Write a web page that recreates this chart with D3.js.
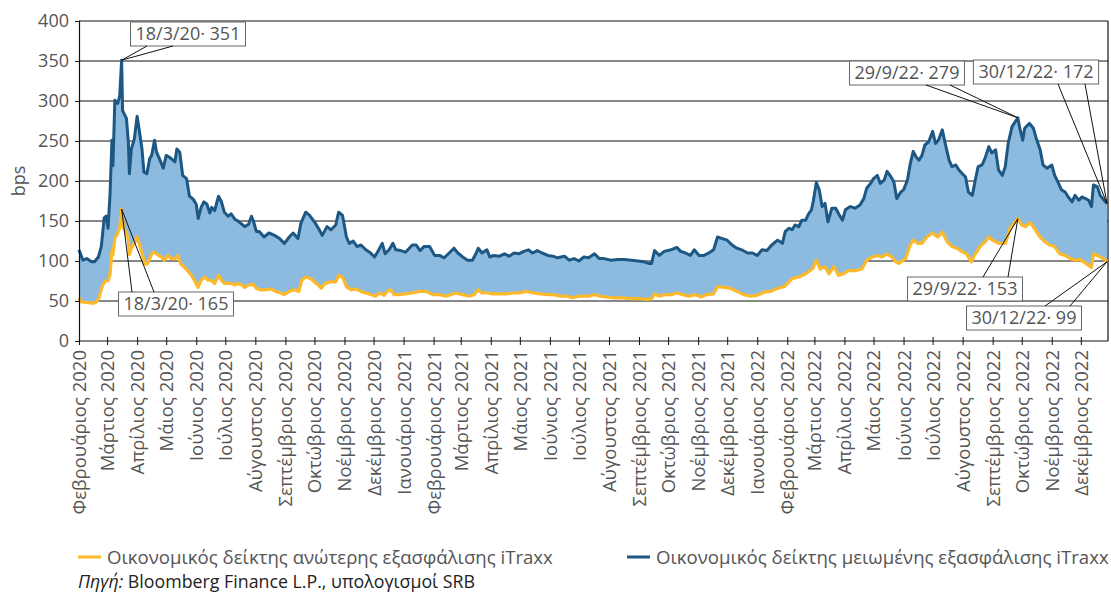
<!DOCTYPE html>
<html>
<head>
<meta charset="utf-8">
<script src="https://d3js.org/d3.v7.min.js"></script>
<style>
  body { margin: 0; background: #fff; }
  text { font-family: "Open Sans", "Noto Sans", sans-serif; }
</style>
</head>
<body>
<div id="chart"></div>
<script>
// iTraxx sub (μειωμένης εξασφάλισης), bps
var subDates = [
  "2020-02-03","2020-02-07","2020-02-11","2020-02-16","2020-02-19","2020-02-23","2020-02-26","2020-02-29",
  "2020-03-02","2020-03-04","2020-03-06","2020-03-08","2020-03-09","2020-03-11","2020-03-14","2020-03-16",
  "2020-03-18","2020-03-19","2020-03-23","2020-03-25","2020-03-26","2020-03-28","2020-03-31","2020-04-03",
  "2020-04-05","2020-04-08","2020-04-10","2020-04-13","2020-04-16","2020-04-18","2020-04-21","2020-04-23",
  "2020-04-26","2020-04-30","2020-05-03","2020-05-06","2020-05-10","2020-05-12","2020-05-14","2020-05-17",
  "2020-05-20","2020-05-24","2020-05-27","2020-05-31","2020-06-03","2020-06-05","2020-06-08","2020-06-11",
  "2020-06-14","2020-06-17","2020-06-19","2020-06-22","2020-06-26","2020-06-29","2020-07-02","2020-07-06",
  "2020-07-09","2020-07-13","2020-07-16","2020-07-20","2020-07-23","2020-07-27","2020-07-30","2020-08-01",
  "2020-08-04","2020-08-07","2020-08-12","2020-08-17","2020-08-23","2020-08-28","2020-09-02","2020-09-07",
  "2020-09-11","2020-09-16","2020-09-19","2020-09-24","2020-09-28","2020-10-03","2020-10-08","2020-10-11",
  "2020-10-16","2020-10-20","2020-10-25","2020-10-28","2020-11-01","2020-11-05","2020-11-08","2020-11-12",
  "2020-11-16","2020-11-20","2020-11-25","2020-11-30","2020-12-04","2020-12-07","2020-12-12","2020-12-15",
  "2020-12-19","2020-12-23","2020-12-26","2020-12-31","2021-01-05","2021-01-12","2021-01-16","2021-01-20",
  "2021-01-24","2021-01-30","2021-02-04","2021-02-09","2021-02-14","2021-02-19","2021-02-24","2021-02-28",
  "2021-03-05","2021-03-10","2021-03-15","2021-03-19","2021-03-21","2021-03-25","2021-03-30","2021-04-02",
  "2021-04-06","2021-04-12","2021-04-17","2021-04-22","2021-04-27","2021-05-02","2021-05-07","2021-05-12",
  "2021-05-16","2021-05-21","2021-05-26","2021-06-01","2021-06-06","2021-06-11","2021-06-18","2021-06-23",
  "2021-06-28","2021-07-03","2021-07-08","2021-07-13","2021-07-19","2021-07-24","2021-07-29","2021-08-05",
  "2021-08-12","2021-08-19","2021-08-26","2021-09-02","2021-09-08","2021-09-13","2021-09-16","2021-09-19",
  "2021-09-24","2021-09-29","2021-10-06","2021-10-12","2021-10-16","2021-10-21","2021-10-26","2021-10-30",
  "2021-11-04","2021-11-09","2021-11-14","2021-11-19","2021-11-23","2021-11-28","2021-12-03","2021-12-08",
  "2021-12-13","2021-12-18","2021-12-24","2021-12-29","2022-01-03","2022-01-08","2022-01-13","2022-01-18",
  "2022-01-24","2022-01-27","2022-01-29","2022-02-01","2022-02-05","2022-02-08","2022-02-11","2022-02-15",
  "2022-02-18","2022-02-22","2022-02-25","2022-02-28","2022-03-02","2022-03-05","2022-03-08","2022-03-11",
  "2022-03-14","2022-03-17","2022-03-21","2022-03-25","2022-03-28","2022-04-01","2022-04-04","2022-04-09",
  "2022-04-14","2022-04-19","2022-04-23","2022-04-26","2022-04-30","2022-05-03","2022-05-07","2022-05-10",
  "2022-05-14","2022-05-17","2022-05-20","2022-05-24","2022-05-27","2022-05-31","2022-06-03","2022-06-07",
  "2022-06-10","2022-06-13","2022-06-16","2022-06-19","2022-06-22","2022-06-25","2022-06-29","2022-07-03",
  "2022-07-06","2022-07-09","2022-07-13","2022-07-16","2022-07-20","2022-07-23","2022-07-27","2022-07-30",
  "2022-08-02","2022-08-06","2022-08-09","2022-08-13","2022-08-16","2022-08-19","2022-08-23","2022-08-26",
  "2022-08-30","2022-09-02","2022-09-06","2022-09-09","2022-09-13","2022-09-16","2022-09-19","2022-09-23",
  "2022-09-29","2022-10-01","2022-10-04","2022-10-06","2022-10-11","2022-10-15","2022-10-18","2022-10-22",
  "2022-10-25","2022-10-29","2022-11-03","2022-11-06","2022-11-10","2022-11-13","2022-11-17","2022-11-20",
  "2022-11-24","2022-11-27","2022-12-01","2022-12-04","2022-12-08","2022-12-11","2022-12-14","2022-12-16",
  "2022-12-20","2022-12-23","2022-12-27","2022-12-30"
];
var subValues = [
  114,101,103,99,99,105,118,154,
  156,141,183,251,219,301,297,306,
  351,288,278,247,209,240,252,281,
  265,240,211,209,228,232,251,236,
  228,216,232,230,226,224,240,236,
  207,203,181,177,171,153,167,174,
  171,160,167,163,181,174,161,156,
  159,152,150,146,143,146,156,150,
  137,137,130,135,132,128,122,130,
  135,128,147,161,157,149,139,132,
  143,139,145,161,157,130,122,125,
  118,120,114,110,105,111,122,109,
  114,122,114,113,111,120,120,113,
  118,118,107,107,104,110,116,110,
  105,101,101,110,116,110,114,105,
  107,106,109,106,110,109,112,114,
  110,113,110,107,106,104,106,101,
  103,100,105,104,109,103,103,101,
  102,102,101,100,99,97,97,113,
  107,112,114,117,112,110,107,114,
  107,107,110,114,130,128,126,120,
  116,114,110,110,107,114,113,120,
  126,124,122,137,141,139,145,143,
  151,151,159,164,176,198,189,168,
  172,149,166,166,159,151,164,168,
  166,170,178,191,197,203,207,197,
  201,212,207,199,178,186,189,201,
  222,237,230,226,232,245,249,262,
  247,251,264,247,226,218,220,214,
  210,205,186,182,201,218,220,228,
  243,235,239,214,207,218,247,268,
  279,266,251,266,272,266,253,239,
  220,216,220,207,197,189,186,180,
  174,182,176,180,178,176,168,195,
  193,182,176,172
];

// iTraxx senior (ανώτερης εξασφάλισης), bps
var seniorDates = [
  "2020-02-03","2020-02-05","2020-02-13","2020-02-18","2020-02-21","2020-02-24","2020-02-26","2020-02-28",
  "2020-03-01","2020-03-04","2020-03-06","2020-03-08","2020-03-09","2020-03-11","2020-03-14","2020-03-16",
  "2020-03-18","2020-03-20","2020-03-23","2020-03-25","2020-03-26","2020-03-28","2020-03-31","2020-04-03",
  "2020-04-05","2020-04-08","2020-04-11","2020-04-13","2020-04-16","2020-04-19","2020-04-22","2020-04-25",
  "2020-04-28","2020-05-01","2020-05-05","2020-05-08","2020-05-12","2020-05-15","2020-05-18","2020-05-22",
  "2020-05-25","2020-05-29","2020-06-01","2020-06-05","2020-06-08","2020-06-12","2020-06-15","2020-06-18",
  "2020-06-22","2020-06-26","2020-06-29","2020-07-02","2020-07-06","2020-07-09","2020-07-13","2020-07-16",
  "2020-07-20","2020-07-23","2020-07-27","2020-07-30","2020-08-01","2020-08-04","2020-08-08","2020-08-13",
  "2020-08-19","2020-08-24","2020-08-29","2020-09-02","2020-09-07","2020-09-12","2020-09-17","2020-09-20",
  "2020-09-24","2020-09-29","2020-10-05","2020-10-10","2020-10-14","2020-10-20","2020-10-25","2020-10-28",
  "2020-11-01","2020-11-05","2020-11-10","2020-11-15","2020-11-20","2020-11-25","2020-11-30","2020-12-05",
  "2020-12-09","2020-12-14","2020-12-17","2020-12-21","2020-12-24","2020-12-29","2021-01-05","2021-01-12",
  "2021-01-19","2021-01-26","2021-02-02","2021-02-09","2021-02-16","2021-02-21","2021-02-26","2021-03-05",
  "2021-03-12","2021-03-17","2021-03-21","2021-03-25","2021-03-31","2021-04-05","2021-04-12","2021-04-19",
  "2021-04-26","2021-05-02","2021-05-10","2021-05-17","2021-05-24","2021-06-01","2021-06-07","2021-06-14",
  "2021-06-21","2021-06-26","2021-07-03","2021-07-08","2021-07-13","2021-07-19","2021-07-24","2021-07-31",
  "2021-08-08","2021-08-17","2021-08-26","2021-09-03","2021-09-11","2021-09-16","2021-09-19","2021-09-24",
  "2021-09-30","2021-10-07","2021-10-12","2021-10-18","2021-10-25","2021-10-31","2021-11-06","2021-11-12",
  "2021-11-19","2021-11-23","2021-11-30","2021-12-06","2021-12-13","2021-12-20","2021-12-27","2022-01-03",
  "2022-01-10","2022-01-17","2022-01-24","2022-01-31","2022-02-08","2022-02-15","2022-02-22","2022-03-01",
  "2022-03-05","2022-03-09","2022-03-14","2022-03-18","2022-03-23","2022-03-28","2022-04-02","2022-04-07",
  "2022-04-14","2022-04-21","2022-04-26","2022-05-02","2022-05-07","2022-05-12","2022-05-17","2022-05-22",
  "2022-05-26","2022-05-29","2022-06-05","2022-06-10","2022-06-13","2022-06-18","2022-06-22","2022-06-27",
  "2022-07-03","2022-07-08","2022-07-13","2022-07-18","2022-07-23","2022-07-28","2022-08-02","2022-08-07",
  "2022-08-12","2022-08-16","2022-08-21","2022-08-26","2022-08-30","2022-09-03","2022-09-09","2022-09-16",
  "2022-09-21","2022-09-29","2022-10-03","2022-10-07","2022-10-12","2022-10-17","2022-10-22","2022-10-27",
  "2022-11-01","2022-11-06","2022-11-11","2022-11-17","2022-11-22","2022-11-27","2022-12-02","2022-12-08",
  "2022-12-14","2022-12-16","2022-12-20","2022-12-26","2022-12-30"
];
var seniorValues = [
  54,49,48,47,49,55,65,71,
  75,75,83,113,108,129,135,141,
  165,141,135,126,108,116,122,130,
  122,110,96,96,103,111,110,107,
  105,101,107,103,103,107,96,92,
  88,82,76,67,76,80,76,76,
  72,82,76,72,72,72,70,72,
  70,67,70,70,71,66,64,64,
  65,62,60,58,62,64,62,76,
  80,78,72,66,72,74,74,82,
  80,68,64,65,62,60,58,56,
  60,57,62,64,58,58,59,60,
  62,62,58,58,56,58,60,58,
  56,58,64,60,60,59,59,59,
  60,60,62,60,59,58,58,56,
  56,54,56,56,56,58,56,55,
  54,54,53,53,52,53,59,56,
  58,58,60,58,56,58,55,58,
  59,68,67,66,62,58,56,57,
  61,62,66,68,78,80,84,90,
  101,90,93,84,93,82,84,88,
  88,90,101,105,107,105,109,105,
  99,97,103,120,126,122,122,130,
  135,130,136,124,118,116,112,109,
  99,109,118,124,130,126,122,122,
  141,153,145,143,148,139,130,124,
  120,118,109,107,103,101,102,97,
  92,109,107,103,99
];

var monthNames = ["Ιανουάριος","Φεβρουάριος","Μάρτιος","Απρίλιος","Μάιος","Ιούνιος",
  "Ιούλιος","Αύγουστος","Σεπτέμβριος","Οκτώβριος","Νοέμβριος","Δεκέμβριος"];
var yTicks = [0, 50, 100, 150, 200, 250, 300, 350, 400];

// callouts
var annDates = ["2020-03-18", "2020-03-18", "2022-09-29", "2022-12-30", "2022-09-29", "2022-12-30"];
var annValues = [351, 165, 279, 172, 153, 99];
var annLabels = ["18/3/20· 351", "18/3/20· 165", "29/9/22· 279", "30/12/22· 172", "29/9/22· 153", "30/12/22· 99"];

var legendLabels = ["Οικονομικός δείκτης ανώτερης εξασφάλισης iTraxx",
  "Οικονομικός δείκτης μειωμένης εξασφάλισης iTraxx"];

var width = 1111, height = 594;
var plotLeft = 79, plotRight = 1107, plotTop = 21, plotBottom = 341;
var subColor = "#1d5783", seniorColor = "#fdb92c", fillColor = "#8dbadf";

var parse = d3.timeParse("%Y-%m-%d");

var svg = d3.select("#chart").append("svg")
  .attr("width", width)
  .attr("height", height);

var x = d3.scaleTime()
  .domain([parse("2020-02-03"), parse("2022-12-30")])
  .range([plotLeft, plotRight]);
var y = d3.scaleLinear().domain([0, 400]).range([plotBottom, plotTop]);

// gridlines
svg.append("g").selectAll("line")
  .data(yTicks.slice(1))
  .enter().append("line")
  .attr("x1", plotLeft).attr("x2", plotRight + 1)
  .attr("y1", d => y(d)).attr("y2", d => y(d))
  .style("stroke", "#111").style("stroke-width", 1.2);

// right border
svg.append("line")
  .attr("x1", plotRight + 1).attr("x2", plotRight + 1)
  .attr("y1", plotTop).attr("y2", plotBottom)
  .style("stroke", "#111").style("stroke-width", 1.2);

// band between the two series
var upper = subDates.map((d, i) => [x(parse(d)), y(subValues[i])]);
var lower = seniorDates.map((d, i) => [x(parse(d)), y(seniorValues[i])]).reverse();
svg.append("path")
  .attr("d", d3.line()(upper.concat(lower)) + "Z")
  .style("fill", fillColor);

var line = d3.line().x(d => x(d[0])).y(d => y(d[1]));

svg.append("path")
  .datum(seniorDates.map((d, i) => [parse(d), seniorValues[i]]))
  .attr("d", line)
  .style("fill", "none").style("stroke", seniorColor)
  .style("stroke-width", 3.2).style("stroke-linejoin", "round");

svg.append("path")
  .datum(subDates.map((d, i) => [parse(d), subValues[i]]))
  .attr("d", line)
  .style("fill", "none").style("stroke", subColor)
  .style("stroke-width", 3).style("stroke-linejoin", "round");

// y axis
var yAxis = svg.append("g")
  .attr("transform", "translate(" + plotLeft + ",0)")
  .call(d3.axisLeft(y).tickValues(yTicks).tickSize(4).tickPadding(6));
yAxis.select(".domain").style("stroke", "#111").style("stroke-width", 1.2);
yAxis.selectAll(".tick line").style("stroke", "#111");
yAxis.selectAll("text")
  .style("font-size", "18px").style("fill", "#555");

svg.append("text")
  .attr("transform", "translate(19," + y(200) + ") rotate(-90)")
  .attr("text-anchor", "middle")
  .attr("dy", "0.35em")
  .style("font-size", "18px").style("fill", "#555")
  .text("bps");

// x axis: monthly ticks from the first observation
var tickDates = d3.range(35).map(i => new Date(2020, 1 + i, 3));
var xAxis = svg.append("g")
  .attr("transform", "translate(0," + plotBottom + ")")
  .call(d3.axisBottom(x).tickValues(tickDates).tickSize(4)
    .tickFormat(d => monthNames[d.getMonth()] + " " + d.getFullYear()));
xAxis.select(".domain").attr("d", "M" + plotLeft + ",0H" + (plotRight + 1))
  .style("stroke", "#111").style("stroke-width", 1.2);
xAxis.selectAll(".tick line").attr("y1", -4).attr("y2", 4).style("stroke", "#111");
xAxis.selectAll(".tick text")
  .attr("transform", "rotate(-90)")
  .attr("text-anchor", "end")
  .attr("x", -9).attr("y", 0).attr("dy", "0.35em")
  .style("font-size", "18.5px").style("fill", "#555");

// callout boxes: centre, side of the leaders (+1 below / -1 above), two leader anchors (offset from centre)
var boxPos = [[188, 34, 1, -41, -15], [176, 304, -1, -44, -22], [907, 73, 1, 19, 43],
  [1036, 72, 1, 22, 49], [965, 289, -1, 18, 43], [1024, 318, -1, 21, 46]];

annLabels.forEach(function (label, i) {
  var px = x(parse(annDates[i])), py = y(annValues[i]);
  var b = boxPos[i];
  var g = svg.append("g");
  var t = g.append("text")
    .attr("x", b[0]).attr("y", b[1]).attr("dy", "0.36em")
    .attr("text-anchor", "middle")
    .style("font-size", "18px").style("fill", "#555")
    .text(label);
  var bb = t.node().getBBox();
  g.insert("rect", "text")
    .attr("x", bb.x - 5).attr("y", b[1] - 12)
    .attr("width", bb.width + 10).attr("height", 24)
    .style("fill", "#fff").style("stroke", "#666").style("stroke-width", 1);
  [b[3], b[4]].forEach(function (off) {
    svg.append("line")
      .attr("x1", b[0] + off).attr("y1", b[1] + b[2] * 12)
      .attr("x2", px).attr("y2", py)
      .style("stroke", "#111").style("stroke-width", 1);
  });
});

// legend
var legend = svg.append("g").attr("transform", "translate(0,557)");
[[78, seniorColor], [627, subColor]].forEach(function (p, i) {
  legend.append("line")
    .attr("x1", p[0]).attr("x2", p[0] + 23)
    .style("stroke", p[1]).style("stroke-width", 3);
  legend.append("text")
    .attr("x", p[0] + 29).attr("dy", "0.35em")
    .style("font-size", "18.6px").style("fill", "#555")
    .text(legendLabels[i]);
});

var src = svg.append("text")
  .attr("x", 78).attr("y", 582).attr("dy", "0.35em")
  .style("font-size", "17.8px").style("fill", "#222");
src.append("tspan").style("font-style", "italic").text("Πηγή:");
src.append("tspan").text(" Bloomberg Finance L.P., υπολογισμοί SRB");
</script>
</body>
</html>
